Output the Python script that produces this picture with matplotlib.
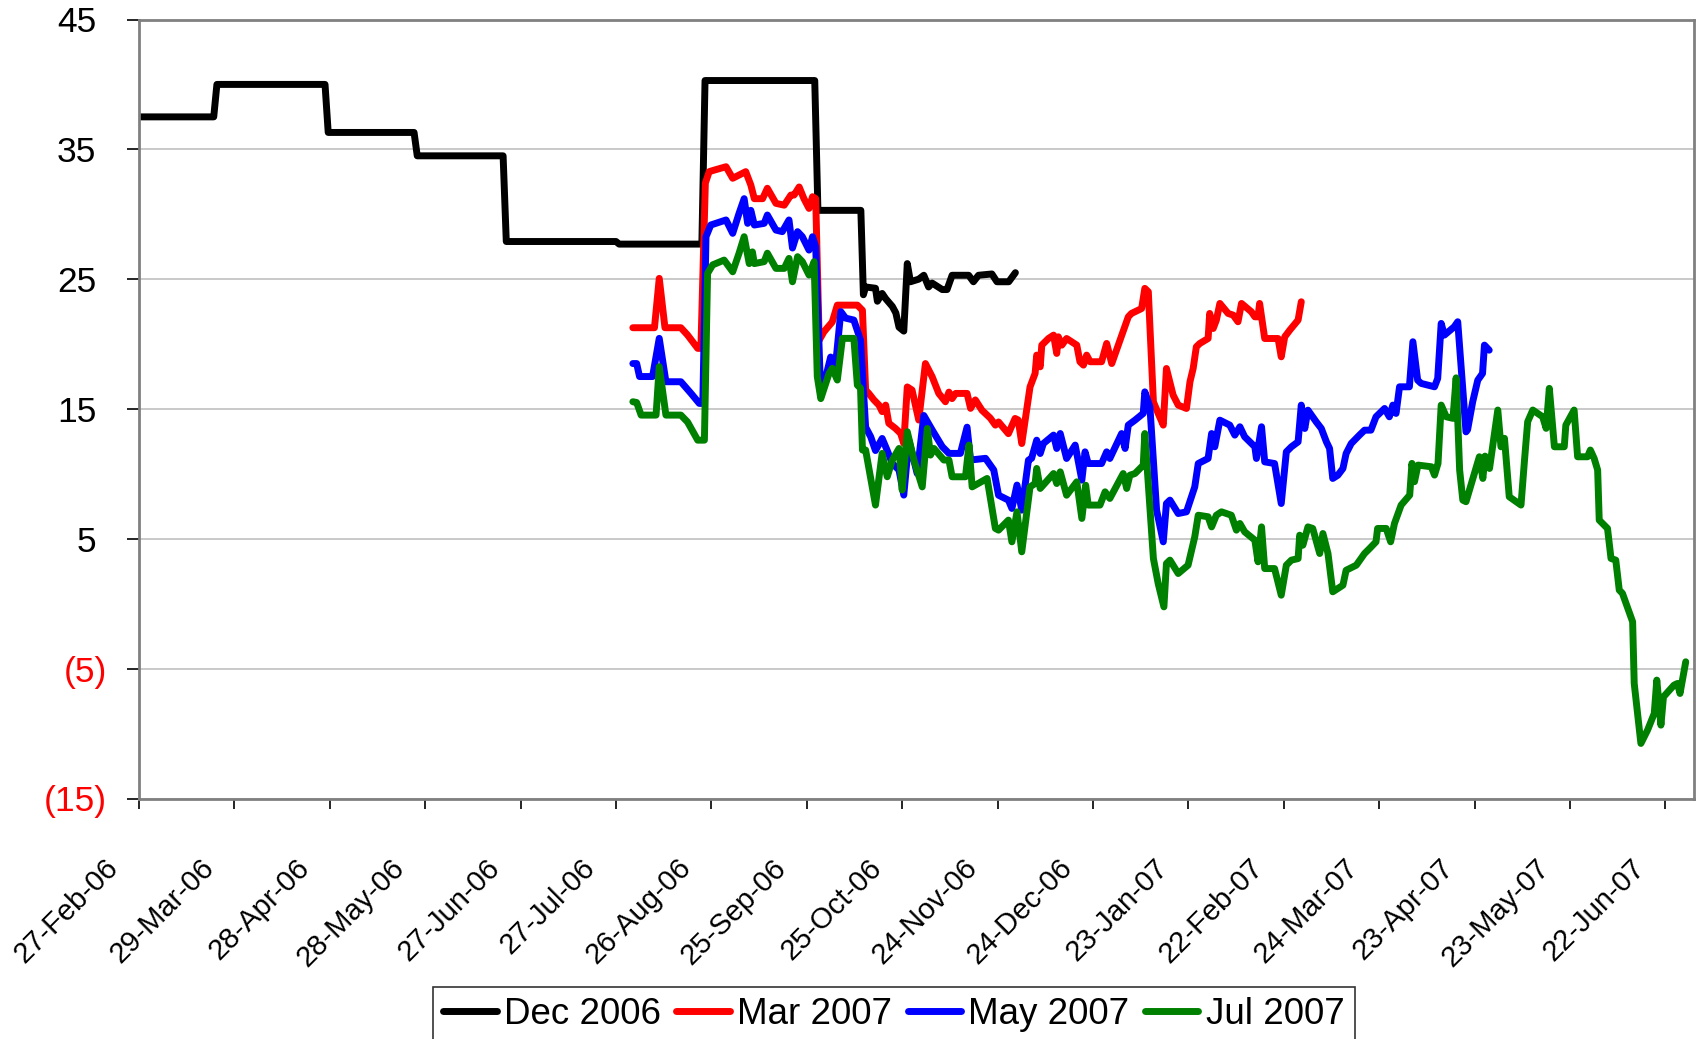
import numpy as np
import matplotlib
matplotlib.use('Agg')
import matplotlib.pyplot as plt
import matplotlib.dates as mdates
from matplotlib.transforms import ScaledTranslation

plt.rcParams['font.family'] = ['Liberation Sans', 'DejaVu Sans']

START = '2006-02-27'

# ---- data: day offsets from START and values ----
dec06_days = [0, 23.5, 24.5, 58.5, 59.5, 86.5, 87.5, 114.5, 115.5, 150, 151, 177, 178, 212.5, 213.5, 227,
              227.8, 228.5, 231.6, 232.2, 233.7, 234.8, 236.9, 238, 239, 240.5, 241.6, 242.6, 245.2, 246.8,
              248.3, 249.4, 252.6, 254.1, 255.7, 260.9, 262.4, 264, 268.2, 269.8, 273.5, 275.6]
dec06_vals = [37.5, 37.5, 40.0, 40.0, 36.3, 36.3, 34.5, 34.5, 27.9, 27.9, 27.7, 27.7, 40.3, 40.3, 30.3, 30.3,
              23.8, 24.4, 24.3, 23.3, 23.9, 23.5, 22.9, 22.4, 21.3, 21.0, 26.2, 24.8, 25.0, 25.3,
              24.4, 24.7, 24.2, 24.2, 25.3, 25.3, 24.8, 25.3, 25.4, 24.8, 24.8, 25.5]

mar07_days = [155.3, 162.1, 163.6, 165.4, 170.4, 172.5, 175.7, 176.7, 178.1, 179.3, 180.9, 184.6, 186.7,
              190.8, 192.4, 193.5, 196.1, 197.6, 200.3, 202.9, 205.0, 206.0, 207.6, 209.1, 210.7, 211.8,
              212.8, 213.9, 215.4, 218.0, 219.6, 225.9, 227.5, 228.5, 229.5, 231.1, 232.7, 233.7, 234.8,
              235.8, 237.9, 239.5, 240.5, 241.6, 243.1, 245.2, 247.3, 249.4, 251.5, 253.6, 254.7, 255.7,
              256.8, 260.4, 261.5, 263.0, 265.1, 267.7, 269.3, 270.3, 273.4, 275.5, 276.5, 277.6, 280.2,
              281.8, 282.3, 283.4, 283.9, 286.0, 287.6, 288.6, 289.1, 290.2, 291.7, 294.9, 295.9, 297.0,
              298.0, 299.1, 302.7, 304.3, 305.9, 311.1, 312.1, 315.3, 316.3, 317.4, 319.0, 320.5, 322.1,
              323.1, 325.2, 326.8, 329.4, 330.5, 331.5, 332.5, 333.6, 336.2, 336.7, 337.8, 338.8, 339.9,
              342.5, 344.1, 345.6, 346.7, 349.8, 350.9, 351.9, 352.4, 354.0, 358.2, 359.2, 360.3, 361.9,
              364.5, 365.5]
mar07_vals = [21.26, 21.26, 25.06, 21.26, 21.26, 20.7, 19.67, 19.67, 32.4, 33.28, 33.4, 33.66, 32.77,
              33.28, 32.25, 31.2, 31.2, 32.0, 30.84, 30.7, 31.48, 31.48, 32.1, 31.2, 30.45, 31.35,
              31.2, 20.3, 20.95, 21.7, 23.0, 23.0, 22.6, 16.46, 16.2, 15.7, 15.3, 14.8, 15.3,
              13.9, 13.5, 13.12, 12.35, 16.7, 16.46, 14.15, 18.5, 17.5, 16.2, 15.56, 16.3, 15.8,
              16.2, 16.2, 15.05, 15.7, 14.9, 14.3, 13.76, 14.0, 13.1, 14.27, 14.15, 12.34, 16.7,
              17.74, 19.15, 18.25, 19.92, 20.43, 20.69, 19.28, 20.56, 19.92, 20.43, 19.92, 18.64, 18.38,
              19.15, 18.64, 18.64, 20.05, 18.5, 22.1, 22.36, 22.74, 24.29, 24.03, 15.55, 14.66, 13.76,
              18.12, 16.07, 15.3, 15.04, 17.1, 18.12, 19.79, 20.05, 20.43, 22.36, 21.2, 21.85, 23.13,
              22.36, 22.23, 21.72, 23.13, 22.49, 22.1, 22.1, 23.13, 20.43, 20.43, 19.02, 20.56, 21.08,
              21.85, 23.26]

may07_days = [155.3, 156.5, 157.4, 161.5, 163.6, 165.7, 170.4, 173.6, 176.2, 177.3, 178.3, 179.8, 184.6,
              186.7, 188.7, 190.3, 191.4, 192.4, 193.5, 196.6, 197.6, 200.3, 202.3, 204.4, 205.5, 207.1,
              208.6, 210.7, 211.8, 212.8, 214.4, 216.0, 217.5, 219.1, 220.7, 222.2, 224.8, 226.9, 228.5,
              230.1, 231.6, 233.7, 235.3, 236.9, 239.0, 240.5, 242.1, 244.7, 246.8, 249.4, 252.6, 254.7,
              258.3, 260.4, 261.5, 266.2, 268.8, 270.3, 273.4, 274.5, 276.1, 277.6, 279.7, 280.7, 282.3,
              283.4, 284.4, 287.6, 288.6, 289.7, 291.7, 294.4, 296.5, 297.5, 298.5, 302.7, 304.3, 305.3,
              309.0, 310.1, 311.1, 313.2, 315.8, 316.3, 317.9, 320.0, 322.1, 323.1, 324.2, 326.8, 329.4,
              332.0, 333.1, 336.2, 337.3, 338.3, 339.9, 343.0, 344.6, 346.2, 347.7, 350.9, 351.4, 353.0,
              354.0, 357.1, 359.2, 360.8, 362.4, 364.5, 365.5, 366.6, 367.6, 370.2, 371.8, 373.4, 374.4,
              375.4, 377.0, 378.6, 379.6, 381.2, 383.8, 385.4, 387.4, 389.0, 391.7, 393.2, 394.3, 395.3,
              396.4, 399.5, 400.6, 402.1, 403.2, 407.4, 408.4, 409.5, 410.5, 413.6, 414.7, 417.3, 417.8,
              419.4, 421.0, 422.5, 423.1, 424.6]
may07_vals = [18.5, 18.5, 17.5, 17.5, 20.44, 17.1, 17.1, 16.2, 15.43, 15.43, 28.27, 29.17, 29.56,
              28.53, 30.07, 31.2, 29.3, 30.3, 29.17, 29.3, 29.94, 28.78, 28.66, 29.56, 27.4, 28.66,
              28.27, 27.24, 28.27, 27.5, 15.94, 17.5, 19.0, 18.5, 22.5, 22.0, 21.85, 20.3, 13.6,
              12.86, 11.8, 12.73, 11.8, 10.8, 10.3, 8.37, 12.6, 10.04, 14.5, 13.4, 12.1, 11.58,
              11.58, 13.6, 11.07, 11.2, 10.3, 8.36, 7.98, 7.34, 9.14, 7.21, 11.06, 11.2, 12.6,
              11.57, 12.34, 12.99, 11.96, 13.11, 11.19, 12.22, 9.52, 11.7, 10.8, 10.8, 11.7, 11.19,
              13.11, 11.96, 13.76, 14.14, 14.66, 16.32, 15.17, 7.21, 4.77, 7.72, 7.98, 6.95, 7.08,
              9.0, 10.8, 11.19, 13.11, 12.09, 14.14, 13.76, 12.99, 13.63, 12.86, 12.09, 11.19, 13.63,
              10.93, 10.8, 7.72, 11.7, 12.09, 12.47, 15.3, 13.5, 14.91, 14.01, 13.5, 12.47, 11.96,
              9.65, 9.9, 10.42, 11.57, 12.34, 12.99, 13.37, 13.37, 14.4, 15.04, 14.4, 15.3, 14.66,
              16.71, 16.71, 20.18, 17.22, 16.97, 16.71, 17.35, 21.59, 20.69, 21.33, 21.72, 13.24, 13.4,
              15.55, 17.22, 17.74, 19.92, 19.53]

jul07_days = [155.3, 156.5, 157.9, 162.6, 163.6, 165.7, 170.4, 172.5, 175.7, 177.8, 178.8, 180.4, 184.0,
              186.7, 188.7, 190.3, 191.9, 192.9, 193.5, 196.6, 197.6, 200.3, 202.9, 204.4, 205.5, 207.1,
              208.6, 210.7, 212.3, 213.3, 214.4, 217.0, 218.0, 219.6, 221.2, 224.8, 225.9, 226.9, 227.5,
              228.5, 231.6, 233.7, 235.3, 236.9, 239.0, 240.0, 241.6, 243.7, 246.3, 247.9, 248.9, 250.0,
              253.1, 254.7, 255.7, 259.9, 261.0, 262.0, 266.7, 269.3, 270.3, 273.4, 274.5, 276.1, 277.6,
              280.2, 281.8, 282.3, 283.4, 287.6, 288.6, 289.7, 291.7, 294.9, 296.5, 297.7, 298.5, 302.2,
              303.8, 305.3, 309.5, 310.6, 311.6, 313.2, 315.8, 316.3, 319.0, 320.5, 322.3, 323.1, 324.2,
              326.8, 329.9, 332.0, 333.1, 336.2, 337.3, 338.8, 340.4, 343.5, 345.1, 346.2, 347.7, 350.9,
              351.9, 353.0, 354.0, 357.1, 359.2, 360.8, 362.4, 364.5, 365.0, 366.0, 367.6, 369.1, 371.3,
              372.3, 373.9, 375.4, 378.6, 379.6, 382.8, 385.4, 387.0, 389.0, 389.5, 392.2, 393.6, 394.8,
              396.9, 399.6, 400.3, 401.1, 402.2, 406.4, 407.4, 408.5, 409.5, 411.1, 413.2, 414.2, 415.3,
              416.3, 417.3, 421.5, 422.6, 423.3, 424.7, 427.3, 428.3, 429.4, 430.9, 434.6, 435.7, 436.7,
              438.3, 441.4, 442.5, 443.5, 445.1, 448.2, 448.7, 451.3, 452.4, 455.5, 456.4, 457.6, 458.7,
              459.2, 461.8, 462.9, 464.4, 465.5, 466.5, 469.7, 470.2, 472.3, 474.4, 476.5, 477.3, 478.6,
              479.4, 482.7, 483.8, 484.6, 486.4]
jul07_vals = [15.56, 15.5, 14.53, 14.53, 18.26, 14.53, 14.53, 14.0, 12.6, 12.6, 25.45, 26.1, 26.47,
              25.57, 27.0, 28.27, 26.2, 27.1, 26.2, 26.35, 27.0, 25.83, 25.83, 26.6, 24.8, 26.73,
              26.35, 25.32, 26.35, 17.5, 15.8, 17.74, 18.13, 17.23, 20.44, 20.44, 16.84, 16.6, 11.84,
              11.84, 7.6, 11.58, 9.78, 11.07, 11.96, 8.76, 13.25, 11.07, 9.0, 13.5, 11.45, 11.96,
              11.07, 11.07, 9.78, 9.78, 12.22, 9.0, 9.65, 5.8, 5.67, 6.44, 4.77, 7.08, 4.0,
              9.0, 9.26, 10.42, 8.88, 10.03, 9.26, 10.16, 8.36, 9.39, 6.57, 9.13, 7.6, 7.6,
              8.62, 8.11, 10.03, 8.88, 9.9, 10.03, 10.67, 13.11, 3.48, 1.56, -0.24, 3.1, 3.36,
              2.33, 2.97, 5.15, 6.82, 6.7, 5.92, 6.82, 7.08, 6.82, 5.67, 6.18, 5.54, 4.9,
              3.23, 5.92, 2.71, 2.71, 0.66, 2.97, 3.36, 3.48, 5.28, 4.51, 5.92, 5.8, 3.87,
              5.41, 3.87, 0.92, 1.43, 2.58, 2.97, 3.87, 4.26, 4.77, 5.8, 5.8, 4.77, 6.18,
              7.6, 8.37, 10.81, 9.4, 10.68, 10.55, 9.91, 10.81, 15.3, 14.4, 14.28, 17.4, 10.3,
              7.98, 7.86, 11.32, 9.65, 11.37, 10.42, 14.92, 12.09, 12.74, 8.24, 7.6, 11.07, 14.02,
              14.92, 14.4, 13.51, 16.59, 12.09, 12.09, 13.76, 14.92, 11.32, 11.32, 11.84, 11.2, 10.3,
              6.44, 5.8, 3.49, 3.36, 1.05, 0.8, -1.39, -6.14, -10.76, -9.73, -8.45, -5.88, -9.35,
              -7.17, -6.27, -6.14, -6.91, -4.47]

series_labels = ['Dec 2006', 'Mar 2007', 'May 2007', 'Jul 2007']
series_colors = ['#000000', '#FF0000', '#0000FF', '#008000']

yticks = [-15, -5, 5, 15, 25, 35, 45]
xtick_step_days = 30
xtick_count = 17
x_end_days = 489

# ---- figure ----
W, H = 1699, 1039
LW = 5.0
fig = plt.figure(figsize=(W / 100, H / 100), dpi=100)
L, R, T, B = 139, 1694, 19.5, 798.5
ax = fig.add_axes([L / W, 1 - B / H, (R - L) / W, (B - T) / H])

t0 = mdates.datestr2num(START)
all_days = [dec06_days, mar07_days, may07_days, jul07_days]
all_vals = [dec06_vals, mar07_vals, may07_vals, jul07_vals]
handles = []
for d, v, lab, c in zip(all_days, all_vals, series_labels, series_colors):
    h, = ax.plot(t0 + np.asarray(d), v, color=c, lw=LW, label=lab,
                 solid_joinstyle='round', solid_capstyle='round')
    handles.append(h)

ax.set_xlim(t0, t0 + x_end_days)
ax.set_ylim(-15, 45)
ax.set_yticks(yticks)
ax.set_yticklabels([('(%d)' % abs(v)) if v < 0 else ('%d' % v) for v in yticks])

xt = t0 + np.arange(xtick_count) * xtick_step_days
ax.set_xticks(xt)
ax.xaxis.set_major_formatter(mdates.DateFormatter('%d-%b-%y'))

ax.yaxis.grid(True, color='#C0C0C0', lw=1.2)
ax.set_axisbelow(True)

for s in ax.spines.values():
    s.set_color('#808080')
    s.set_linewidth(2)

ax.tick_params(axis='y', direction='out', length=9, width=1.2, color='black', labelsize=25.5)
ax.tick_params(axis='x', direction='out', length=7.2, width=1.2, color='black', labelsize=21, pad=39.6)

for tick, v in zip(ax.yaxis.get_major_ticks(), yticks):
    tick.set_pad(14 if v < 0 else 21.6)
    tick.label1.set_color('#FF0000' if v < 0 else 'black')

off = ScaledTranslation(-25 / 100, 0, fig.dpi_scale_trans)
for lab in ax.get_xticklabels():
    lab.set_rotation(45)
    lab.set_ha('right')
    lab.set_va('center')
    lab.set_rotation_mode('anchor')
    lab.set_transform(lab.get_transform() + off)

leg = fig.legend(handles, series_labels, loc='upper left',
                 bbox_to_anchor=(433 / W, 1 - 987 / H), bbox_transform=fig.transFigure,
                 ncol=4, fontsize=26.5, frameon=True, fancybox=False, edgecolor='black',
                 handlelength=1.45, handletextpad=0.2, columnspacing=0.42, borderpad=0.28,
                 borderaxespad=0)
leg.get_frame().set_linewidth(1.2)
for lh in leg.get_lines():
    lh.set_linewidth(LW)
    lh.set_solid_capstyle('round')

fig.savefig('out.png', dpi=100)
